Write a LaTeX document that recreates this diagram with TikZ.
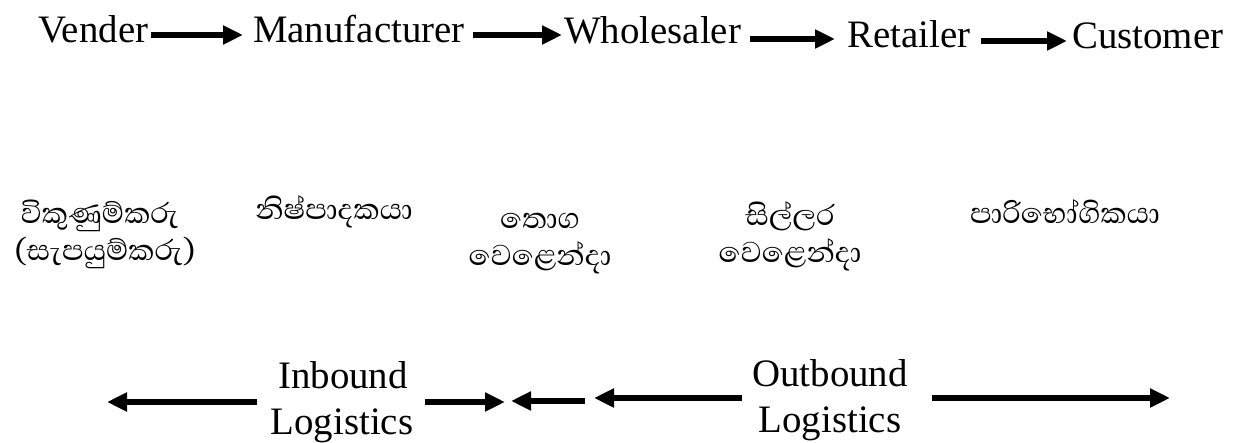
\documentclass[tikz,border=0pt]{standalone}
\usepackage{fontspec}
\setmainfont{Liberation Serif}
\newfontfamily\sinhala[Script=Sinhala]{Abhaya Libre}
\usetikzlibrary{arrows.meta}
\begin{document}
\begin{tikzpicture}[x=1bp,y=-1bp,
  lbl/.style={inner sep=0pt, font=\fontsize{39}{44}\selectfont},
  sin/.style={inner sep=0pt, anchor=base, text height=0.55em, text depth=0.1em, font=\fontsize{37}{40}\sinhala},
  arr/.style={line width=5.5bp, -{Triangle[length=20bp,width=18bp]}},
]
\useasboundingbox (0,0) rectangle (1258,443);
% row 1
\node[lbl, anchor=base west] (vender) at (38,43) {Vender};
\node[lbl, anchor=base west] (manu) at (253,43) {Manufacturer};
\node[lbl, anchor=base west] (whole) at (564,44) {Wholesaler};
\node[lbl, anchor=base west] (retail) at (847,48) {Retailer};
\node[lbl, anchor=base west] (cust) at (1072,49) {Customer};
\draw[arr, shorten <=3bp, shorten >=10bp] (vender.east |- 0,35) -- (manu.west |- 0,35);
\draw[arr, shorten <=8bp, shorten >=2bp] (manu.east |- 0,35) -- (whole.west |- 0,35);
\draw[arr, shorten <=9bp, shorten >=12bp] (whole.east |- 0,39) -- (retail.west |- 0,39);
\draw[arr, shorten <=11bp, shorten >=5bp] (retail.east |- 0,41) -- (cust.west |- 0,41);
% row 2
\node[sin] (s1a) at (100,224) {විකුණුම්කරු};
\node[sin] (s1b) at (105,261) {(සැපයුම්කරු)};
\node[sin] (s2) at (334,220) {නිෂ්පාදකයා};
\node[sin] (s3a) at (540,229) {තොග};
\node[sin] (s3b) at (540,266) {වෙළෙන්දා};
\node[sin] (s4a) at (790,226) {සිල්ලර};
\node[sin] (s4b) at (790,263) {වෙළෙන්දා};
\node[sin] (s5) at (1065,224) {පාරිභෝගිකයා};
% row 3
\node[lbl, anchor=base] (inb1) at (343,389) {Inbound};
\node[lbl, anchor=base] (inb2) at (342,435) {Logistics};
\node[lbl, anchor=base] (out1) at (830,387) {Outbound};
\node[lbl, anchor=base] (out2) at (830,433) {Logistics};
\coordinate (a1t) at (257,402); \coordinate (a1h) at (107,402);
\coordinate (a2t) at (425,402); \coordinate (a2h) at (505,402);
\coordinate (a3t) at (585,401); \coordinate (a3h) at (511,401);
\coordinate (a4t) at (742,398); \coordinate (a4h) at (594,398);
\coordinate (a5t) at (932,398); \coordinate (a5h) at (1170,398);
\draw[arr] (a1t) -- (a1h);
\draw[arr] (a2t) -- (a2h);
\draw[arr] (a3t) -- (a3h);
\draw[arr] (a4t) -- (a4h);
\draw[arr] (a5t) -- (a5h);
\end{tikzpicture}
\end{document}
